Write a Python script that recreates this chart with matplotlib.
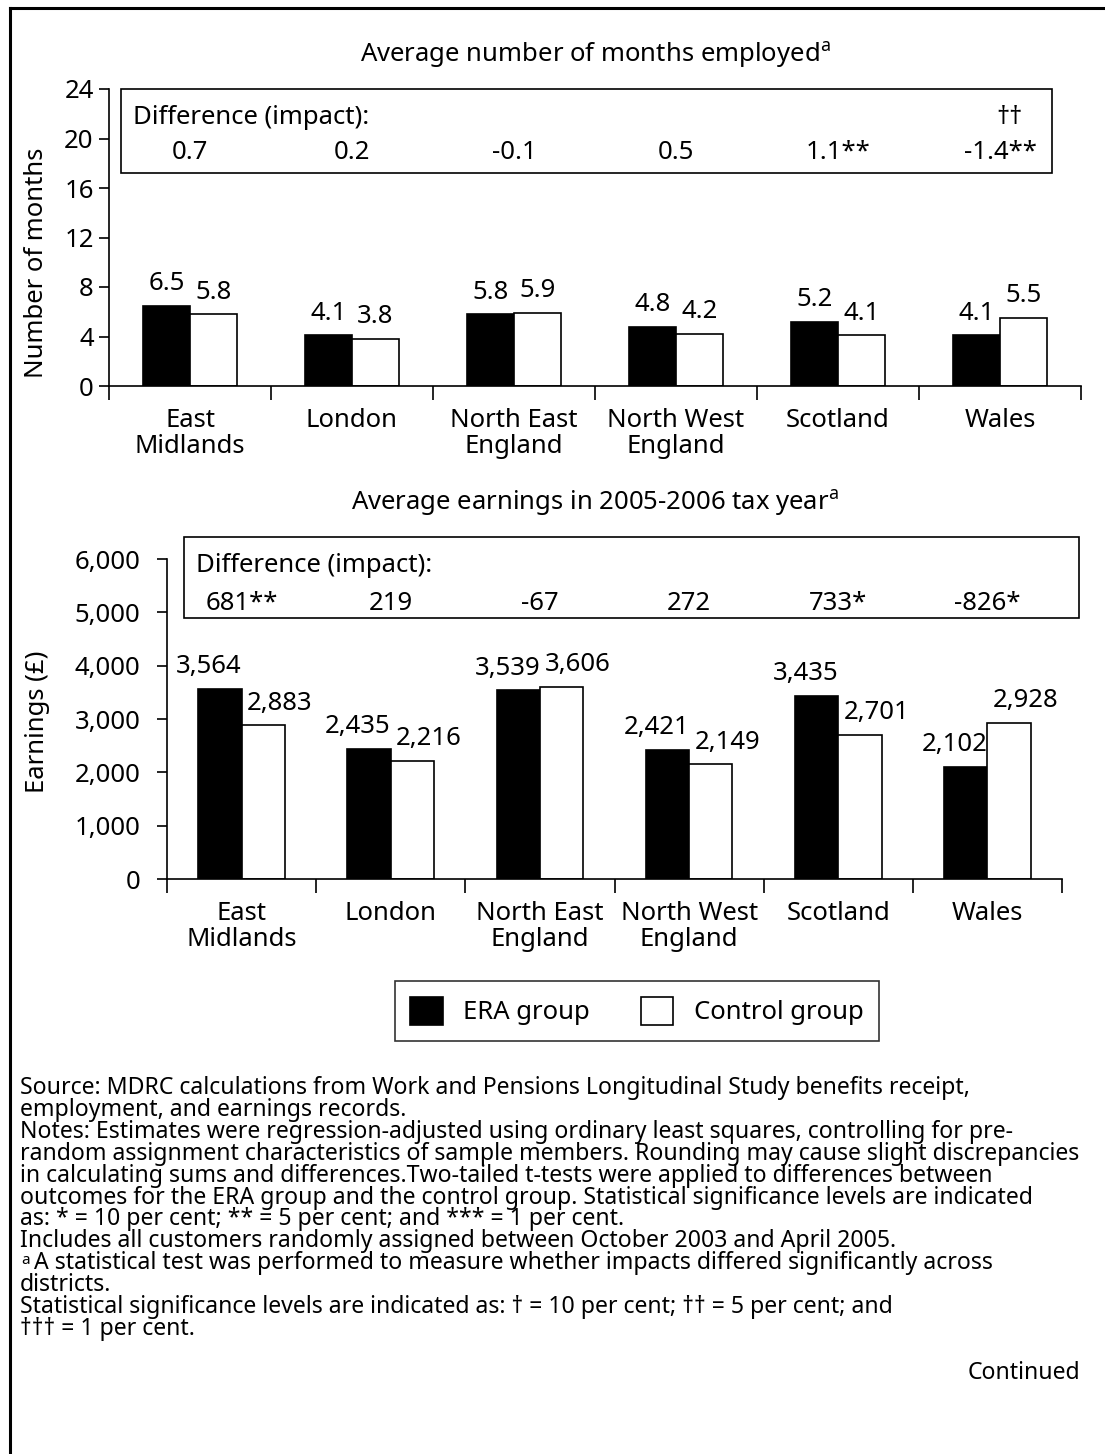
import matplotlib.pyplot as plt
import numpy as np
from matplotlib.patches import Rectangle
from matplotlib.lines import Line2D
from matplotlib.ticker import FuncFormatter

plt.rcParams['font.family'] = ['Noto Sans', 'DejaVu Sans']
plt.rcParams['mathtext.fontset'] = 'custom'
plt.rcParams['mathtext.rm'] = 'Noto Sans'
plt.rcParams['mathtext.it'] = 'Noto Sans:italic'

# data
regions = ["East\nMidlands", "London", "North East\nEngland", "North West\nEngland", "Scotland", "Wales"]
months_era = [6.5, 4.1, 5.8, 4.8, 5.2, 4.1]
months_ctrl = [5.8, 3.8, 5.9, 4.2, 4.1, 5.5]
months_diff = ["0.7", "0.2", "-0.1", "0.5", "1.1**", "-1.4**"]
earn_era = [3564, 2435, 3539, 2421, 3435, 2102]
earn_ctrl = [2883, 2216, 3606, 2149, 2701, 2928]
earn_diff = ["681**", "219", "-67", "272", "733*", "-826*"]

notes = [
    "Source: MDRC calculations from Work and Pensions Longitudinal Study benefits receipt,",
    "employment, and earnings records.",
    "Notes: Estimates were regression-adjusted using ordinary least squares, controlling for pre-",
    "random assignment characteristics of sample members. Rounding may cause slight discrepancies",
    "in calculating sums and differences.Two-tailed t-tests were applied to differences between",
    "outcomes for the ERA group and the control group. Statistical significance levels are indicated",
    "as: * = 10 per cent; ** = 5 per cent; and *** = 1 per cent.",
    "Includes all customers randomly assigned between October 2003 and April 2005.",
    "A statistical test was performed to measure whether impacts differed significantly across",
    "districts.",
    "Statistical significance levels are indicated as: \u2020 = 10 per cent; \u2020\u2020 = 5 per cent; and",
    "\u2020\u2020\u2020 = 1 per cent.",
]

W, H = 1105, 1454
fig = plt.figure(figsize=(W / 100, H / 100), dpi=100)


def fx(px):
    return px / W


def fy(py):
    return 1 - py / H


FS = 18.5
NFS = 16.6


def draw_panel(ax, era, ctrl, ymax, step, fmt, dx):
    x = np.arange(len(regions)) + 0.5
    w = 0.29
    b1 = ax.bar(x - w / 2, era, w, color='black', edgecolor='black', linewidth=1.2)
    b2 = ax.bar(x + w / 2, ctrl, w, color='white', edgecolor='black', linewidth=1.2)
    ax.set_xlim(0, 6)
    ax.set_ylim(0, ymax)
    ax.set_yticks(np.arange(0, ymax + 1, step))
    ax.yaxis.set_major_formatter(FuncFormatter(lambda v, p: fmt(v)))
    ax.set_xticks(np.arange(0, 7))
    ax.set_xticklabels([])
    ax.set_xticks(x, minor=True)
    ax.set_xticklabels(regions, minor=True, fontsize=FS, linespacing=1.05)
    ax.tick_params(axis='x', which='major', length=10, width=1.2)
    ax.tick_params(axis='x', which='minor', length=0, pad=16)
    ax.tick_params(axis='y', length=7, width=1.2, labelsize=FS)
    for s in ['top', 'right']:
        ax.spines[s].set_visible(False)
    for s in ['left', 'bottom']:
        ax.spines[s].set_linewidth(1.2)
    for xi, v in zip(x - w / 2, era):
        ax.annotate(fmt(v) if step > 100 else f"{v:.1f}", (xi, v), xytext=(-dx, 7),
                    textcoords='offset points', ha='center', va='bottom', fontsize=FS)
    for xi, v in zip(x + w / 2, ctrl):
        ax.annotate(fmt(v) if step > 100 else f"{v:.1f}", (xi, v), xytext=(dx * 1.5, 7),
                    textcoords='offset points', ha='center', va='bottom', fontsize=FS)
    return b1, b2


# top panel: months employed
ax1 = fig.add_axes([fx(109), fy(386), fx(1081) - fx(109), fy(89) - fy(386)])
draw_panel(ax1, months_era, months_ctrl, 24, 4, lambda v: f"{v:.0f}", 0)
ax1.tick_params(axis='y', pad=4)
ax1.add_patch(Rectangle((0.074, 17.2), 5.75, 6.8, fill=False, edgecolor='black',
                        linewidth=1.2, clip_on=False))
ax1.text(0.148, 21.7, "Difference (impact):", fontsize=FS, va='center')
ax1.text(5.56, 21.7, "\u2020\u2020", fontsize=FS, va='center', ha='center')
for i, d in enumerate(months_diff):
    ax1.text(i + 0.5, 18.9, d, fontsize=FS, va='center', ha='center')

# bottom panel: earnings
ax2 = fig.add_axes([fx(167), fy(879), fx(1062) - fx(167), fy(559) - fy(879)])
b1, b2 = draw_panel(ax2, earn_era, earn_ctrl, 6000, 1000, lambda v: f"{v:,.0f}", 8)
ax2.tick_params(axis='y', pad=12)
ax2.add_patch(Rectangle((0.114, 4894), 6.0, 1519, fill=False, edgecolor='black',
                        linewidth=1.2, clip_on=False))
ax2.text(0.194, 5869, "Difference (impact):", fontsize=FS, va='center')
for i, d in enumerate(earn_diff):
    ax2.text(i + 0.5, 5175, d, fontsize=FS, va='center', ha='center')

# titles and axis labels
fig.text(fx(595), fy(55), "Average number of months employed$^{\\mathrm{a}}$", fontsize=FS,
         ha='center', va='center')
fig.text(fx(595), fy(503), "Average earnings in 2005-2006 tax year$^{\\mathrm{a}}$", fontsize=FS,
         ha='center', va='center')
fig.text(fx(37), fy(263), "Number of months", fontsize=FS, rotation=90, ha='center', va='center')
fig.text(fx(37), fy(722), "Earnings (\u00a3)", fontsize=FS, rotation=90, ha='center', va='center')

leg = fig.legend([b1, b2], ["ERA group", "Control group"], loc='center',
                 bbox_to_anchor=(fx(637), fy(1011)), ncol=2, frameon=True, fancybox=False,
                 edgecolor='black', fontsize=FS, handlelength=1.25, handleheight=1.3,
                 handletextpad=0.8, columnspacing=2.0, borderpad=0.6)
leg.get_frame().set_linewidth(1.2)

# notes
for i, line in enumerate(notes):
    x0 = 20
    if line.startswith("A statistical"):
        fig.text(fx(21), fy(1088 + i * 21.9 - 3), "a", fontsize=11, va='center', ha='left')
        x0 = 34
    fig.text(fx(x0), fy(1088 + i * 21.9), line, fontsize=NFS, va='center', ha='left')
fig.text(fx(1080), fy(1373), "Continued", fontsize=NFS, va='center', ha='right')

# page border (top and left)
fig.add_artist(Line2D([fx(10), 1], [fy(8), fy(8)], color='black', linewidth=2.2))
fig.add_artist(Line2D([fx(10), fx(10)], [fy(8), 0], color='black', linewidth=2.2))

fig.savefig("out.png", dpi=100)
